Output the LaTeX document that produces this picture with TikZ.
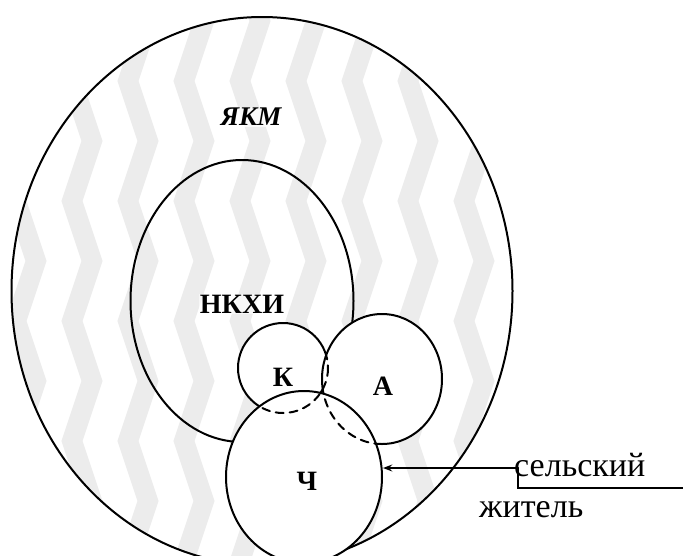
\documentclass[tikz,border=0pt]{standalone}
\usepackage{fontspec}
\setmainfont{Liberation Serif}
\usetikzlibrary{arrows.meta,shapes.geometric,decorations.pathmorphing}

\begin{document}
\begin{tikzpicture}[x=1pt,y=-1pt,>={Stealth[length=3.2mm,width=2.4mm]},line cap=round,
  ring/.style={ellipse,draw,line width=2pt,inner sep=0pt},
  part/.style={ring,fill=white},
  band/.style={gray!15,line width=20pt,decorate,
    decoration={zigzag,segment length=120pt,amplitude=10pt}},
  lbl/.style={font=\bfseries\fontsize{28}{28}\selectfont,inner sep=1pt},
  word/.style={anchor=west,font=\fontsize{34}{34}\selectfont,inner sep=0pt},
  hidden/.style={line width=2pt,dash pattern=on 8pt off 6pt}]
\useasboundingbox (0,0) rectangle (683,555);
% textured outer field
\node[ring,minimum width=501pt,minimum height=548pt,
  path picture={\foreach \bx in {-236,-180,...,260} \draw[band] (\bx,-300) -- (\bx,300);}]
  (jkm) at (262,291) {};
\node[ring,minimum width=223pt,minimum height=282pt] (nkhi) at (242,301) {};
% the three parts
\node[part,minimum size=90pt] (k) at (283,368) {};
\node[part,minimum width=120pt,minimum height=130pt] (a) at (382,379) {};
\begin{scope}
  \clip (382,379) ellipse (60 and 65);
  \draw[hidden] (283,368) circle (45);
\end{scope}
\node[part,minimum width=156pt,minimum height=172pt] (ch) at (304,477) {};
\begin{scope}
  \clip (304,477) ellipse (78 and 86);
  \draw[hidden] (283,368) circle (45);
  \draw[hidden] (382,379) ellipse (60 and 65);
\end{scope}
% labels
\node[lbl,fill=white,fill opacity=0.7,text opacity=1,font=\bfseries\itshape\fontsize{27}{27}\selectfont] (jkm-l) at (251,117) {ЯКМ};
\node[lbl,fill=white,fill opacity=0.6,text opacity=1] (nkhi-l) at (242,304) {НКХИ};
\node[lbl] (k-l) at (283,377) {К};
\node[lbl] (a-l) at (383,386) {А};
\node[lbl] (ch-l) at (307,481) {Ч};
% caption with pointer
\node[word] (sel) at (514,465) {сельский};
\node[word] (zhit) at (479,510) {житель};
\coordinate (tail) at (518,468);
\coordinate (edge) at (683,488);
\draw[line width=2pt,->] (tail) -- (tail -| ch.east);
\draw[line width=2pt] (tail) |- (edge);
\end{tikzpicture}
\end{document}
